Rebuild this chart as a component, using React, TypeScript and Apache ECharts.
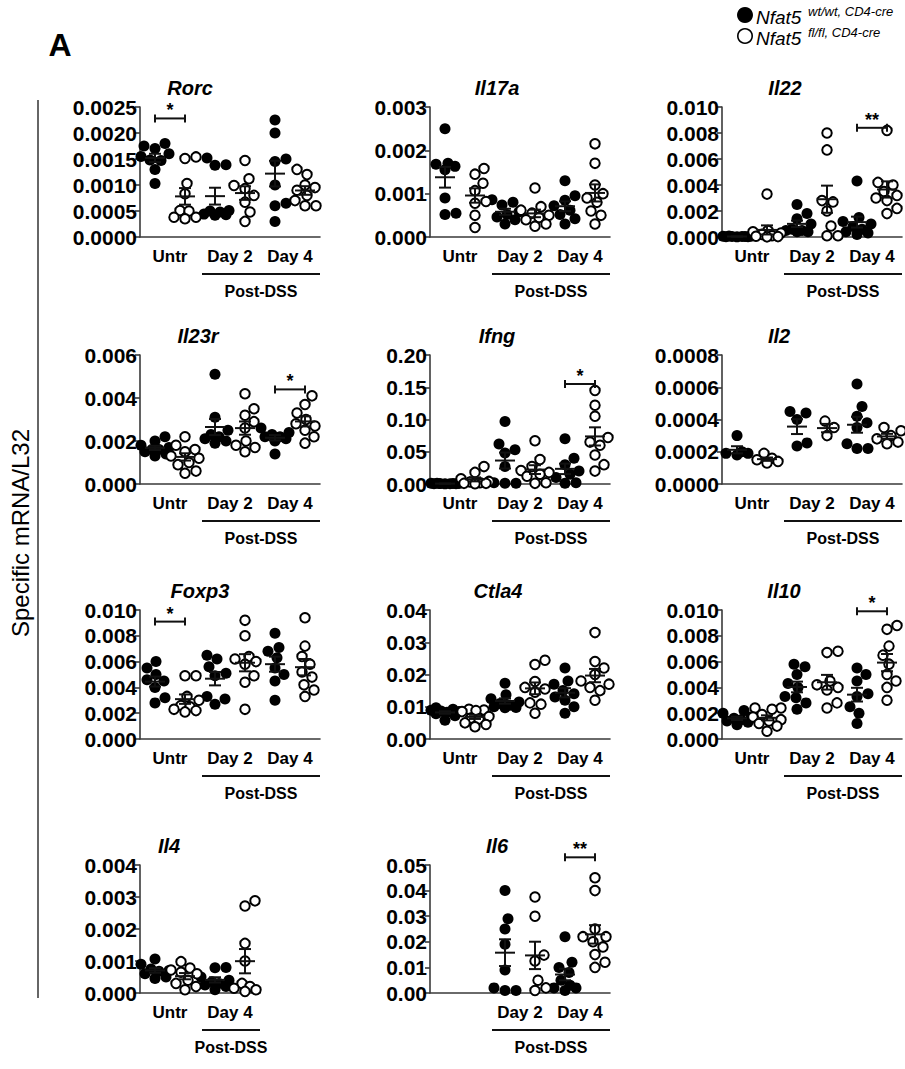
import React, { useEffect, useRef } from "react";
import * as echarts from "echarts";

// ---------- categories & tick labels ----------
const groups6 = ["Untr wt/wt", "Untr fl/fl", "Day 2 wt/wt", "Day 2 fl/fl", "Day 4 wt/wt", "Day 4 fl/fl"];
const groups4 = ["Untr wt/wt", "Untr fl/fl", "Day 4 wt/wt", "Day 4 fl/fl"];
const xLabels6 = ["Untr", "Day 2", "Day 4"];
const xLabels4 = ["Untr", "Day 4"];
const xLabelsIl6 = ["", "Day 2", "Day 4"];

// ---------- values (order: Untr wt, Untr fl, D2 wt, D2 fl, D4 wt, D4 fl) ----------
const rorcVals = [
  [0.0018, 0.00175, 0.0017, 0.0016, 0.00155, 0.00148, 0.00147, 0.0013, 0.00103],
  [0.00151, 0.00154, 0.00103, 0.00083, 0.00051, 0.0005, 0.00038, 0.00035, 0.00038],
  [0.00139, 0.00138, 0.00152, 0.00051, 0.0005, 0.00048, 0.00043, 0.00042, 0.00044],
  [0.00147, 0.00112, 0.00099, 0.00093, 0.0008, 0.00067, 0.00048, 0.0003],
  [0.00225, 0.002, 0.0015, 0.00145, 0.001, 0.00065, 0.0006, 0.0003],
  [0.0013, 0.0012, 0.001, 0.00095, 0.0009, 0.0008, 0.0007, 0.0006, 0.0006],
];
const il17aVals = [
  [0.0025, 0.0017, 0.00168, 0.00163, 0.00155, 0.0009, 0.00055, 0.00052],
  [0.00158, 0.00145, 0.00124, 0.00107, 0.00082, 0.00078, 0.0005, 0.00022],
  [0.00086, 0.0008, 0.00074, 0.00058, 0.00052, 0.00046, 0.0004, 0.0003],
  [0.00113, 0.0007, 0.00062, 0.00055, 0.0005, 0.00045, 0.0004, 0.0003, 0.00025],
  [0.0013, 0.00095, 0.00085, 0.00072, 0.00062, 0.00052, 0.00042, 0.0003],
  [0.00215, 0.0017, 0.0012, 0.001, 0.0009, 0.0008, 0.0006, 0.0005, 0.0003],
];
const il22Vals = [
  [0.00008, 0.00006, 0.00005, 0.00004, 0.00003, 0.00003, 0.00002, 0.00002, 0.00001],
  [0.0033, 0.0005, 0.0004, 0.0003, 0.0002, 0.0001, 0.00006, 0.00003, 0.00001],
  [0.0025, 0.0018, 0.0014, 0.001, 0.0006, 0.0005, 0.0005, 0.0004, 0.0004],
  [0.008, 0.0067, 0.0028, 0.0027, 0.002, 0.00085, 0.0001, 0.0001],
  [0.0043, 0.0015, 0.0012, 0.001, 0.0008, 0.0006, 0.0004, 0.0003, 0.0002],
  [0.0082, 0.0042, 0.004, 0.0035, 0.0032, 0.003, 0.0028, 0.0022, 0.0018],
];
const il23rVals = [
  [0.0022, 0.002, 0.0018, 0.0017, 0.0016, 0.0016, 0.0015, 0.0014, 0.0013],
  [0.0022, 0.0018, 0.0016, 0.0015, 0.0013, 0.0012, 0.001, 0.0009, 0.0006, 0.0005],
  [0.0051, 0.0031, 0.0025, 0.0023, 0.0022, 0.0021, 0.002, 0.0019],
  [0.0042, 0.0035, 0.0032, 0.0029, 0.0026, 0.002, 0.0018, 0.0017, 0.0015],
  [0.0026, 0.0024, 0.0023, 0.0022, 0.0022, 0.0021, 0.002, 0.0014],
  [0.0041, 0.0037, 0.0033, 0.003, 0.0028, 0.0027, 0.0025, 0.0022, 0.0019],
];
const ifngVals = [
  [0.001, 0.001, 0.0008, 0.0007, 0.0006, 0.0005, 0.0004, 0.0003, 0.0002],
  [0.027, 0.018, 0.008, 0.004, 0.003, 0.002, 0.001, 0.001, 0.0005],
  [0.097, 0.062, 0.053, 0.048, 0.027, 0.002, 0.001, 0.001],
  [0.067, 0.038, 0.027, 0.021, 0.018, 0.015, 0.012, 0.002, 0.001],
  [0.07, 0.04, 0.03, 0.02, 0.015, 0.01, 0.002, 0.001],
  [0.145, 0.122, 0.105, 0.072, 0.065, 0.06, 0.045, 0.03, 0.02],
];
const il2Vals = [
  [0.0003, 0.0002, 0.00019, 0.00019, 0.00018],
  [0.00019, 0.00016, 0.00015, 0.00014, 0.00013],
  [0.00045, 0.00044, 0.0004, 0.000255, 0.000235],
  [0.00039, 0.00035, 0.0003],
  [0.00062, 0.00048, 0.00042, 0.00038, 0.00035, 0.00025, 0.00022, 0.00022],
  [0.00035, 0.00033, 0.0003, 0.00028, 0.00026, 0.00025],
];
const foxp3Vals = [
  [0.006, 0.0055, 0.005, 0.0046, 0.0045, 0.004, 0.0032, 0.0028],
  [0.0049, 0.0049, 0.0033, 0.003, 0.0026, 0.0025, 0.0023, 0.0022, 0.0021],
  [0.0065, 0.0062, 0.0056, 0.0051, 0.0049, 0.0033, 0.0031, 0.0027],
  [0.0092, 0.008, 0.0064, 0.0062, 0.006, 0.0058, 0.0049, 0.0044, 0.0023],
  [0.0082, 0.0071, 0.0068, 0.0063, 0.0055, 0.005, 0.0045, 0.003],
  [0.0094, 0.0072, 0.0064, 0.0058, 0.0052, 0.0048, 0.0042, 0.0038, 0.0033],
];
const ctla4Vals = [
  [0.0097, 0.0092, 0.0089, 0.0087, 0.0085, 0.0083, 0.0078, 0.0072, 0.0058],
  [0.0092, 0.009, 0.0088, 0.0085, 0.007, 0.0065, 0.0062, 0.005, 0.0045, 0.0038],
  [0.0173, 0.0137, 0.0125, 0.0115, 0.011, 0.0105, 0.01, 0.0098, 0.0097],
  [0.0244, 0.0231, 0.0178, 0.016, 0.0155, 0.0145, 0.0112, 0.0108, 0.008],
  [0.022, 0.018, 0.017, 0.015, 0.014, 0.013, 0.012, 0.01, 0.008],
  [0.033, 0.024, 0.022, 0.02, 0.018, 0.017, 0.016, 0.015, 0.012],
];
const il10Vals = [
  [0.0022, 0.002, 0.0017, 0.0016, 0.0015, 0.0014, 0.0013, 0.0011],
  [0.0024, 0.0024, 0.0023, 0.0019, 0.0017, 0.0015, 0.0014, 0.0012, 0.001, 0.0006],
  [0.0058, 0.0056, 0.005, 0.0043, 0.004, 0.0033, 0.0032, 0.0028, 0.0023],
  [0.0068, 0.0067, 0.0045, 0.0042, 0.004, 0.0038, 0.0028, 0.0024],
  [0.0055, 0.005, 0.0045, 0.0035, 0.0033, 0.0025, 0.002, 0.0012],
  [0.0088, 0.0085, 0.0072, 0.0065, 0.0058, 0.005, 0.0045, 0.004, 0.003],
];
// Il4: Untr wt, Untr fl, D4 wt, D4 fl
const il4Vals = [
  [0.00106, 0.0009, 0.00075, 0.0007, 0.00068, 0.0006, 0.0005, 0.00045],
  [0.00098, 0.00078, 0.00072, 0.00065, 0.0006, 0.0004, 0.0003, 0.0002, 0.0001],
  [0.0008, 0.00079, 0.0005, 0.0004, 0.00035, 0.0003, 0.00025, 0.0002, 0.0001],
  [0.00288, 0.00272, 0.00155, 0.001, 0.0003, 0.0002, 0.00015, 0.0001, 0.00005],
];
const il6Vals: number[][] = [
  [],
  [],
  [0.04, 0.029, 0.025, 0.019, 0.009, 0.002, 0.001, 0.001],
  [0.0375, 0.03, 0.0148, 0.0125, 0.005, 0.002, 0.001],
  [0.022, 0.012, 0.01, 0.008, 0.005, 0.003, 0.002, 0.002, 0.001],
  [0.045, 0.04, 0.025, 0.022, 0.022, 0.02, 0.018, 0.015, 0.012, 0.01],
];

// y-axis scales: max, step, decimals
const yMaxes = [0.0025, 0.003, 0.01, 0.006, 0.2, 0.0008, 0.01, 0.04, 0.01, 0.004, 0.05];
const ySteps = [0.0005, 0.001, 0.002, 0.002, 0.05, 0.0002, 0.002, 0.01, 0.002, 0.001, 0.01];
const yDecimals = [4, 3, 3, 3, 2, 4, 3, 2, 3, 3, 2];

// significance brackets: [panel, fromGroup, toGroup, yValue, mark]
const brackets: [number, number, number, number, string][] = [
  [0, 0, 1, 0.00228, "*"],
  [2, 4, 5, 0.0084, "**"],
  [3, 4, 5, 0.0044, "*"],
  [4, 4, 5, 0.155, "*"],
  [6, 0, 1, 0.0091, "*"],
  [8, 4, 5, 0.0099, "*"],
  [10, 4, 5, 0.053, "**"],
];

// ---------- layout ----------
const FONT = "Arial, 'Liberation Sans', Helvetica, sans-serif";
const AXIS_COLOR = "#3a3a3a";
const COLS = [140, 430, 722];
const ROWS = [107, 355, 610, 865];
const HEIGHTS = [130, 129, 129, 128];
const BAND = 30;

const panels = [
  { name: "Rorc", vals: rorcVals, groups: groups6, labels: xLabels6, col: 0, row: 0, tx: 190, post: [2, 5] },
  { name: "Il17a", vals: il17aVals, groups: groups6, labels: xLabels6, col: 1, row: 0, tx: 497, post: [2, 5] },
  { name: "Il22", vals: il22Vals, groups: groups6, labels: xLabels6, col: 2, row: 0, tx: 785, post: [2, 5] },
  { name: "Il23r", vals: il23rVals, groups: groups6, labels: xLabels6, col: 0, row: 1, tx: 198, post: [2, 5] },
  { name: "Ifng", vals: ifngVals, groups: groups6, labels: xLabels6, col: 1, row: 1, tx: 497, post: [2, 5] },
  { name: "Il2", vals: il2Vals, groups: groups6, labels: xLabels6, col: 2, row: 1, tx: 779, post: [2, 5] },
  { name: "Foxp3", vals: foxp3Vals, groups: groups6, labels: xLabels6, col: 0, row: 2, tx: 200, post: [2, 5] },
  { name: "Ctla4", vals: ctla4Vals, groups: groups6, labels: xLabels6, col: 1, row: 2, tx: 498, post: [2, 5] },
  { name: "Il10", vals: il10Vals, groups: groups6, labels: xLabels6, col: 2, row: 2, tx: 784, post: [2, 5] },
  { name: "Il4", vals: il4Vals, groups: groups4, labels: xLabels4, col: 0, row: 3, tx: 169, post: [2, 3] },
  { name: "Il6", vals: il6Vals, groups: groups6, labels: xLabelsIl6, col: 1, row: 3, tx: 497, post: [2, 5] },
];

function mean(a: number[]) {
  return a.reduce((s, v) => s + v, 0) / a.length;
}
function sem(a: number[]) {
  if (a.length < 2) return 0;
  const m = mean(a);
  const v = a.reduce((s, x) => s + (x - m) * (x - m), 0) / (a.length - 1);
  return Math.sqrt(v) / Math.sqrt(a.length);
}

// beeswarm offsets (px) so that dots do not overlap
function swarm(vals: number[], pxPer: number, d: number, maxOff: number): number[] {
  const order = vals.map((_, i) => i).sort((a, b) => vals[a] - vals[b]);
  const placed: [number, number][] = [];
  const out = new Array(vals.length).fill(0);
  const cands: number[] = [0];
  for (let k = 1; k <= maxOff; k++) cands.push(k, -k);
  order.forEach((i) => {
    const y = vals[i] * pxPer;
    let best = 0;
    let bestScore = -Infinity;
    for (const x of cands) {
      let minD = Infinity;
      for (const [px, py] of placed) {
        const dd = Math.hypot(px - x, py - y);
        if (dd < minD) minD = dd;
      }
      if (minD >= d) {
        best = x;
        break;
      }
      if (minD > bestScore + 0.01) {
        bestScore = minD;
        best = x;
      }
    }
    out[i] = best;
    placed.push([best, y]);
  });
  return out;
}

function txt(text: string, x: number, y: number, font: string, align = "center", vAlign = "middle", extra: any = {}) {
  return {
    type: "text",
    x,
    y,
    ...extra,
    style: { text, font, fill: "#000", align, verticalAlign: vAlign, textAlign: align, textVerticalAlign: vAlign },
  };
}

function buildOption() {
  const grid: any[] = [];
  const xAxis: any[] = [];
  const yAxis: any[] = [];
  const series: any[] = [];
  const graphic: any[] = [];

  panels.forEach((p, i) => {
    const n = p.groups.length;
    const h = HEIGHTS[p.row];
    grid.push({ left: COLS[p.col], top: ROWS[p.row], width: n * BAND, height: h });
    xAxis.push({
      type: "category",
      gridIndex: i,
      data: p.groups,
      position: "bottom",
      boundaryGap: true,
      axisLine: { show: true, onZero: false, lineStyle: { color: AXIS_COLOR, width: 1.6 } },
      axisTick: { show: false },
      axisLabel: { show: false },
      splitLine: { show: false },
    });
    xAxis.push({
      type: "category",
      gridIndex: i,
      data: p.labels,
      position: "bottom",
      boundaryGap: true,
      axisLine: { show: false },
      axisTick: { show: false },
      axisLabel: { show: true, interval: 0, margin: 11, color: "#000", fontSize: 17, fontWeight: "bold", fontFamily: FONT },
      splitLine: { show: false },
    });
    const dec = yDecimals[i];
    yAxis.push({
      type: "value",
      gridIndex: i,
      min: 0,
      max: yMaxes[i],
      interval: ySteps[i],
      axisLine: { show: true, lineStyle: { color: AXIS_COLOR, width: 1.6 } },
      axisTick: { show: true, length: 5, lineStyle: { color: AXIS_COLOR, width: 1.6 } },
      splitLine: { show: false },
      axisLabel: {
        margin: 3,
        color: "#000",
        fontSize: 21,
        fontWeight: "bold",
        fontFamily: FONT,
        formatter: (v: number) => v.toFixed(dec),
      },
    });

    const pxPer = h / yMaxes[i];
    const wt: any[] = [];
    const fl: any[] = [];
    const ms: number[][] = [];
    p.vals.forEach((arr, g) => {
      if (!arr.length) return;
      const offs = swarm(arr, pxPer, 10.5, 14);
      const items = arr.map((v, k) => ({ value: [g, v], symbolOffset: [offs[k], 0] }));
      (g % 2 === 0 ? wt : fl).push(...items);
      ms.push([g, mean(arr), sem(arr)]);
    });
    series.push({
      type: "scatter",
      name: "Nfat5 wt/wt, CD4-cre",
      xAxisIndex: 2 * i,
      yAxisIndex: i,
      data: wt,
      symbol: "circle",
      symbolSize: 11,
      itemStyle: { color: "#000", opacity: 1 },
      clip: false,
      z: 2,
    });
    series.push({
      type: "scatter",
      name: "Nfat5 fl/fl, CD4-cre",
      xAxisIndex: 2 * i,
      yAxisIndex: i,
      data: fl,
      symbol: "circle",
      symbolSize: 9.5,
      itemStyle: { color: "#fff", borderColor: "#000", borderWidth: 2, opacity: 1 },
      clip: false,
      z: 3,
    });
    series.push({
      type: "custom",
      xAxisIndex: 2 * i,
      yAxisIndex: i,
      data: ms,
      clip: false,
      z: 4,
      renderItem: (_params: any, api: any) => {
        const g = api.value(0);
        const m = api.value(1);
        const s = api.value(2);
        const c = api.coord([g, m]);
        const t = api.coord([g, m + s]);
        const b = api.coord([g, m - s]);
        const st = { stroke: "#111", lineWidth: 2 };
        return {
          type: "group",
          children: [
            { type: "line", shape: { x1: c[0] - 10, y1: c[1], x2: c[0] + 10, y2: c[1] }, style: st },
            { type: "line", shape: { x1: c[0], y1: t[1], x2: c[0], y2: b[1] }, style: st },
            { type: "line", shape: { x1: c[0] - 6, y1: t[1], x2: c[0] + 6, y2: t[1] }, style: st },
            { type: "line", shape: { x1: c[0] - 6, y1: b[1], x2: c[0] + 6, y2: b[1] }, style: st },
          ],
        };
      },
    });
    // Post-DSS group line
    series.push({
      type: "custom",
      xAxisIndex: 2 * i,
      yAxisIndex: i,
      data: [[p.post[0], p.post[1]]],
      encode: { x: [0, 1] },
      clip: false,
      z: 5,
      renderItem: (_params: any, api: any) => {
        const a = api.coord([api.value(0), 0]);
        const b = api.coord([api.value(1), 0]);
        const bw = api.size([1, 0])[0];
        const l = a[0] - bw / 2 + 2;
        const r = b[0] + bw / 2;
        const y = a[1] + 37;
        return {
          type: "group",
          children: [
            { type: "line", shape: { x1: l, y1: y, x2: r, y2: y }, style: { stroke: "#111", lineWidth: 2 } },
            {
              type: "text",
              style: {
                text: "Post-DSS",
                x: (l + r) / 2,
                y: y + 17,
                font: `bold 16px ${FONT}`,
                fill: "#000",
                align: "center",
                verticalAlign: "middle",
              },
            },
          ],
        };
      },
    });
    // significance brackets
    const bs = brackets.filter((b) => b[0] === i);
    if (bs.length) {
      series.push({
        type: "custom",
        xAxisIndex: 2 * i,
        yAxisIndex: i,
        data: bs.map((b) => [b[1], b[3], b[2]]),
        clip: false,
        z: 5,
        renderItem: (params: any, api: any) => {
          const a = api.coord([api.value(0), api.value(1)]);
          const b = api.coord([api.value(2), api.value(1)]);
          const st = { stroke: "#111", lineWidth: 2 };
          const mark = bs[params.dataIndex][4];
          return {
            type: "group",
            children: [
              { type: "line", shape: { x1: a[0], y1: a[1], x2: b[0], y2: b[1] }, style: st },
              { type: "line", shape: { x1: a[0], y1: a[1] - 4, x2: a[0], y2: a[1] + 4 }, style: st },
              { type: "line", shape: { x1: b[0], y1: b[1] - 4, x2: b[0], y2: b[1] + 4 }, style: st },
              {
                type: "text",
                style: {
                  text: mark,
                  x: (a[0] + b[0]) / 2,
                  y: a[1] + 1,
                  font: `bold 18px ${FONT}`,
                  fill: "#000",
                  align: "center",
                  verticalAlign: "bottom",
                },
              },
            ],
          };
        },
      });
    }
    // panel title
    graphic.push(txt(p.name, p.tx, ROWS[p.row] - 19, `italic bold 20px ${FONT}`));
  });

  // panel letter, y-axis title, bracket line, legend
  graphic.push(txt("A", 60, 45, `bold 32px ${FONT}`));
  graphic.push(txt("Specific mRNA/L32", 20, 533, `24px ${FONT}`, "center", "middle", { rotation: Math.PI / 2 }));
  graphic.push({ type: "line", shape: { x1: 38, y1: 100, x2: 38, y2: 998 }, style: { stroke: "#333", lineWidth: 1.5 } });
  graphic.push({ type: "circle", shape: { cx: 745, cy: 15, r: 8 }, style: { fill: "#000" } });
  graphic.push(txt("Nfat5", 756, 17, `italic 19px ${FONT}`, "left"));
  graphic.push(txt("wt/wt, CD4-cre", 808, 11, `italic 13px ${FONT}`, "left"));
  graphic.push({ type: "circle", shape: { cx: 745, cy: 36, r: 7.2 }, style: { fill: "#fff", stroke: "#000", lineWidth: 1.6 } });
  graphic.push(txt("Nfat5", 756, 38, `italic 19px ${FONT}`, "left"));
  graphic.push(txt("fl/fl, CD4-cre", 808, 32, `italic 13px ${FONT}`, "left"));

  return {
    animation: false,
    backgroundColor: "#fff",
    grid,
    xAxis,
    yAxis,
    series,
    graphic,
  };
}

export default function App() {
  const ref = useRef<HTMLDivElement>(null);
  useEffect(() => {
    if (!ref.current) return;
    const chart = echarts.init(ref.current, undefined, { renderer: "svg" });
    chart.setOption(buildOption() as any);
    return () => chart.dispose();
  }, []);
  return (
    <div
      ref={ref}
      style={{ position: "fixed", left: 0, top: 0, width: 905, height: 1069, background: "#fff" }}
    />
  );
}
